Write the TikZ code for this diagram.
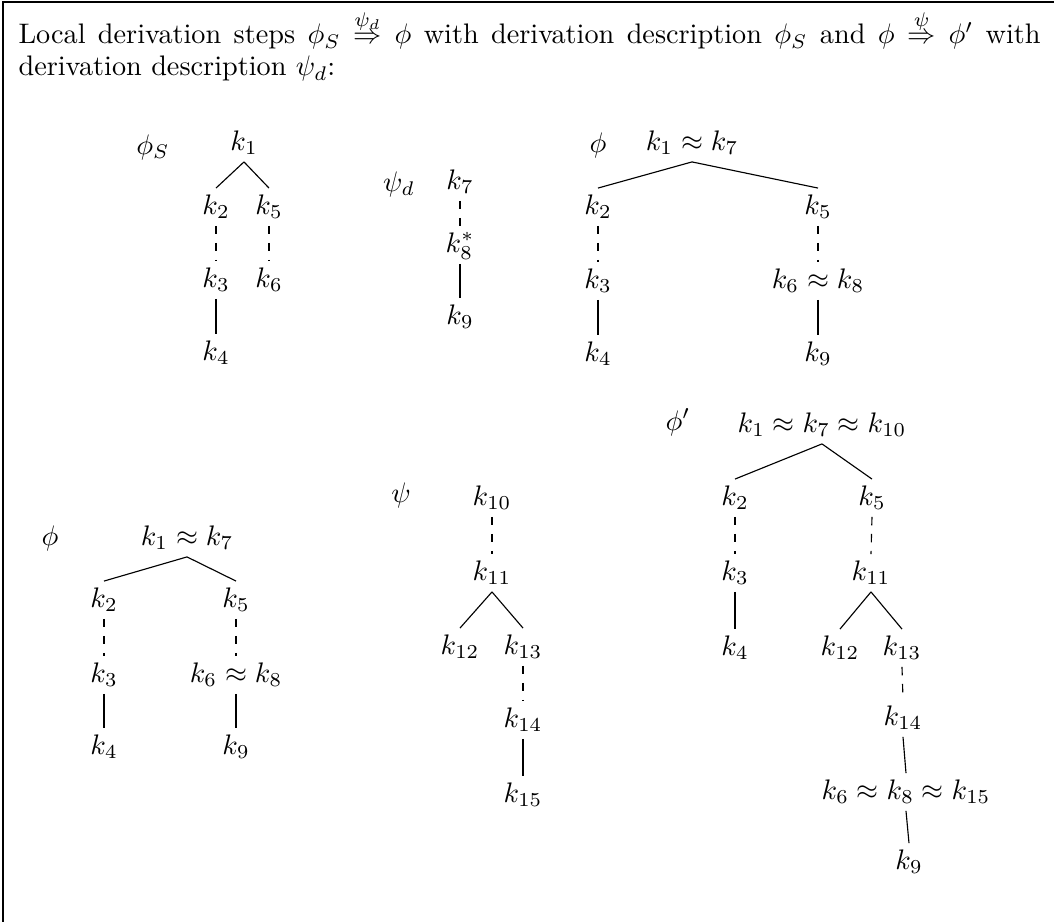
\documentclass[tikz,border=0pt]{standalone}
\usepackage{amsmath}
\usetikzlibrary{math}

\begin{document}
\begin{tikzpicture}[x=0.354pt,y=-0.354pt,
  key/.style={inner sep=2pt, text height=7pt, text depth=2pt},
  lnk/.style={line width=0.4pt},
  dlnk/.style={line width=0.4pt, dashed}]
\tikzmath{
\W=1054;
\H=922;
\tw=361.8;
}
\useasboundingbox (0,0) rectangle (\W,\H);
\draw[line width=1pt] (3,\H) -- (3,2) -- (\W,2);

\node[anchor=base west, inner sep=0] (head1) at (18,44) {\makebox[\tw pt][s]{Local derivation steps $\phi_S \stackrel{\psi_d}{\Rightarrow} \phi$ with derivation description $\phi_S$ and $\phi \stackrel{\psi}{\Rightarrow} \phi'$ with}};
\node[anchor=base west, inner sep=0] (head2) at (18,76) {derivation description $\psi_d$:};

% phi_S
\node[key] (labS) at (153,147) {$\phi_S$};
\node[key] (a1) at (244,143) {$k_1$};
\node[key] (a2) at (216,207) {$k_2$};
\node[key] (a5) at (269,207) {$k_5$};
\node[key] (a3) at (216,280) {$k_3$};
\node[key] (a6) at (269,280) {$k_6$};
\node[key] (a4) at (216,353) {$k_4$};
\draw[lnk] (a1.south) -- (a2.north);
\draw[lnk] (a1.south) -- (a5.north);
\draw[dlnk] (a2.south) -- (a3.north);
\draw[dlnk] (a5.south) -- (a6.north);
\draw[lnk] (a3.south) -- (a4.north);

% psi_d
\node[key] (labD) at (399,184) {$\psi_d$};
\node[key] (b7) at (460,182) {$k_7$};
\node[key] (b8) at (460,245) {$k_8^*$};
\node[key] (b9) at (460,317) {$k_9$};
\draw[dlnk] (b7.south) -- (b8.north);
\draw[lnk] (b8.south) -- (b9.north);

% phi
\node[key] (labP) at (598,145) {$\phi$};
\node[key] (c1) at (692,143) {$k_1 \approx k_7$};
\node[key] (c2) at (598,207) {$k_2$};
\node[key] (c5) at (818,207) {$k_5$};
\node[key] (c3) at (598,281) {$k_3$};
\node[key] (c6) at (818,281) {$k_6 \approx k_8$};
\node[key] (c4) at (598,354) {$k_4$};
\node[key] (c9) at (818,354) {$k_9$};
\draw[lnk] (c1.south) -- (c2.north);
\draw[lnk] (c1.south) -- (c5.north);
\draw[dlnk] (c2.south) -- (c3.north);
\draw[dlnk] (c5.south) -- (c6.north);
\draw[lnk] (c3.south) -- (c4.north);
\draw[lnk] (c6.south) -- (c9.north);

% phi (again)
\node[key] (labQ) at (50,538) {$\phi$};
\node[key] (d1) at (187,538) {$k_1 \approx k_7$};
\node[key] (d2) at (104,600) {$k_2$};
\node[key] (d5) at (236,600) {$k_5$};
\node[key] (d3) at (104,675) {$k_3$};
\node[key] (d6) at (236,675) {$k_6 \approx k_8$};
\node[key] (d4) at (104,747) {$k_4$};
\node[key] (d9) at (236,747) {$k_9$};
\draw[lnk] (d1.south) -- (d2.north);
\draw[lnk] (d1.south) -- (d5.north);
\draw[dlnk] (d2.south) -- (d3.north);
\draw[dlnk] (d5.south) -- (d6.north);
\draw[lnk] (d3.south) -- (d4.north);
\draw[lnk] (d6.south) -- (d9.north);

% psi
\node[key] (labE) at (401,495) {$\psi$};
\node[key] (e10) at (492,498) {$k_{10}$};
\node[key] (e11) at (492,573) {$k_{11}$};
\node[key] (e12) at (460,647) {$k_{12}$};
\node[key] (e13) at (523,647) {$k_{13}$};
\node[key] (e14) at (523,720) {$k_{14}$};
\node[key] (e15) at (523,795) {$k_{15}$};
\draw[dlnk] (e10.south) -- (e11.north);
\draw[lnk] (e11.south) -- (e12.north);
\draw[lnk] (e11.south) -- (e13.north);
\draw[dlnk] (e13.south) -- (e14.north);
\draw[lnk] (e14.south) -- (e15.north);

% phi'
\node[key] (labR) at (678,423) {$\phi'$};
\node[key] (f1) at (822,425) {$k_1 \approx k_7 \approx k_{10}$};
\node[key] (f2) at (735,498) {$k_2$};
\node[key] (f5) at (872,498) {$k_5$};
\node[key] (f3) at (735,573) {$k_3$};
\node[key] (f11) at (871,573) {$k_{11}$};
\node[key] (f4) at (735,648) {$k_4$};
\node[key] (f12) at (840,648) {$k_{12}$};
\node[key] (f13) at (902,648) {$k_{13}$};
\node[key] (f14) at (903,718) {$k_{14}$};
\node[key] (f6) at (906,792) {$k_6 \approx k_8 \approx k_{15}$};
\node[key] (f9) at (909,862) {$k_9$};
\draw[lnk] (f1.south) -- (f2.north);
\draw[lnk] (f1.south) -- (f5.north);
\draw[dlnk] (f2.south) -- (f3.north);
\draw[lnk] (f3.south) -- (f4.north);
\draw[dlnk] (f5.south) -- (f11.north);
\draw[lnk] (f11.south) -- (f12.north);
\draw[lnk] (f11.south) -- (f13.north);
\draw[dlnk] (f13.south) -- (f14.north);
\draw[lnk] (f14.south) -- (f6.north);
\draw[lnk] (f6.south) -- (f9.north);
\end{tikzpicture}
\end{document}
